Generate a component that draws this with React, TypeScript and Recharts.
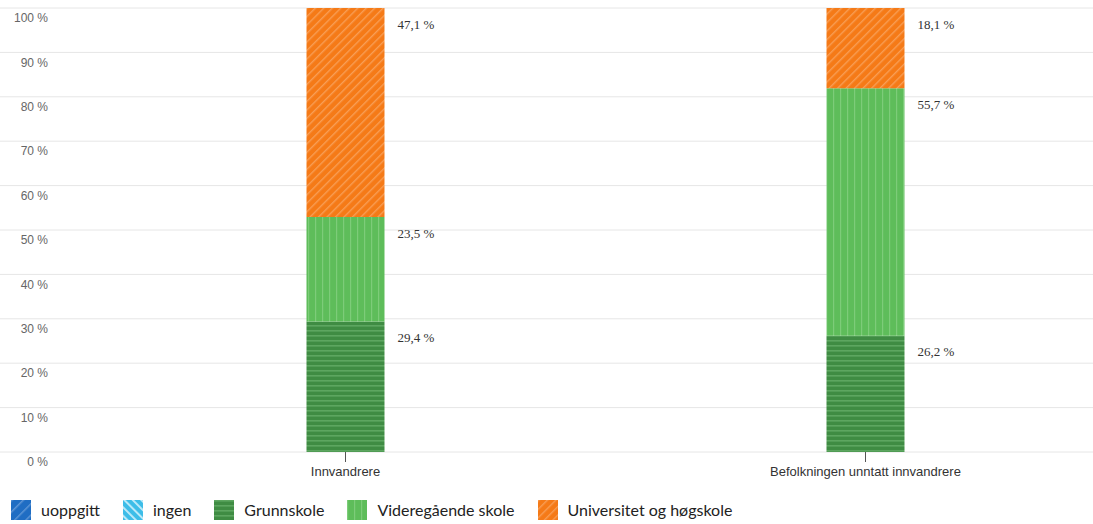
import React from 'react';
import { BarChart, Bar, XAxis, YAxis, CartesianGrid, Legend, LabelList } from 'recharts';

const categories = ['Innvandrere', 'Befolkningen unntatt innvandrere'];
const uoppgitt = [0, 0];
const ingen = [0, 0];
const grunnskole = [29.4, 26.2];
const videregaende = [23.5, 55.7];
const universitet = [47.1, 18.1];
const yTicks = [0, 10, 20, 30, 40, 50, 60, 70, 80, 90, 100];

const seriesNames = ['uoppgitt', 'ingen', 'Grunnskole', 'Videregående skole', 'Universitet og høgskole'];
const seriesKeys = ['uoppgitt', 'ingen', 'grunnskole', 'videregaende', 'universitet'];
const seriesFills = ['url(#pBlue)', 'url(#pCyan)', 'url(#pDark)', 'url(#pLight)', 'url(#pOrange)'];

const data = categories.map((name, i) => ({
  name,
  uoppgitt: uoppgitt[i],
  ingen: ingen[i],
  grunnskole: grunnskole[i],
  videregaende: videregaende[i],
  universitet: universitet[i],
}));

const fmt = (v: number) => v.toFixed(1).replace('.', ',') + ' %';

const ValueLabel = (props: any) => {
  const { x, y, width, value } = props;
  if (!value) return null;
  return (
    <text x={x + width + 13} y={y + 16} dy="0.35em" fontFamily="'Liberation Serif', serif" fontSize={13} fill="#333">
      {fmt(value)}
    </text>
  );
};

const YTick = (props: any) => {
  const { y, payload } = props;
  return (
    <text x={48} y={y + 10} dy="0.35em" textAnchor="end" fontFamily="'Liberation Sans', Arial, sans-serif" fontSize={12} fill="#666">
      {payload.value + ' %'}
    </text>
  );
};

const XTick = (props: any) => {
  const { x, y, payload } = props;
  return (
    <text x={x} y={y} dy="0.71em" textAnchor="middle" fontFamily="'Liberation Sans', Arial, sans-serif" fontSize={13} fill="#333">
      {payload.value}
    </text>
  );
};

const LegendContent = () => (
  <div style={{ display: 'flex', alignItems: 'center', height: 29, paddingLeft: 11, fontFamily: 'Lato, sans-serif', fontSize: 16, color: '#222' }}>
    {seriesNames.map((n, i) => (
      <div key={n} style={{ display: 'flex', alignItems: 'center', marginRight: 23 }}>
        <svg width={20} height={20} style={{ marginRight: 10 }}>
          <rect x={0} y={0} width={20} height={20} fill={seriesFills[i]} />
        </svg>
        <span>{n}</span>
      </div>
    ))}
  </div>
);

export default function App() {
  return (
    <div style={{ position: 'absolute', left: 0, top: 0, width: 1093, height: 524, background: '#fff' }}>
      <BarChart width={1093} height={524} data={data} margin={{ top: 8, right: 0, bottom: 0, left: 0 }} barSize={78}>
        <defs>
          <pattern id="pOrange" patternUnits="userSpaceOnUse" width={6} height={6} patternTransform="rotate(45)">
            <rect width={6} height={6} fill="#F57A17" />
            <rect x={0} y={0} width={1.4} height={6} fill="#F89E55" />
          </pattern>
          <pattern id="pLight" patternUnits="userSpaceOnUse" width={7} height={7}>
            <rect width={7} height={7} fill="#5EBD5A" />
            <rect x={0} y={0} width={1.2} height={7} fill="#7DCC79" />
          </pattern>
          <pattern id="pDark" patternUnits="userSpaceOnUse" width={5} height={5}>
            <rect width={5} height={5} fill="#3F8C43" />
            <rect x={0} y={0} width={5} height={1.6} fill="#5DA660" />
          </pattern>
          <pattern id="pBlue" patternUnits="userSpaceOnUse" width={8} height={8} patternTransform="rotate(45)">
            <rect width={8} height={8} fill="#1F6DC3" />
            <rect x={0} y={0} width={1.5} height={8} fill="#5D95D6" />
          </pattern>
          <pattern id="pCyan" patternUnits="userSpaceOnUse" width={6} height={6} patternTransform="rotate(-45)">
            <rect width={6} height={6} fill="#3DBDE8" />
            <rect x={0} y={0} width={1.8} height={6} fill="#C9EEFA" />
          </pattern>
        </defs>
        <CartesianGrid vertical={false} stroke="#e6e6e6" />
        <XAxis
          dataKey="name"
          padding={{ left: 85.5, right: -32.5 }}
          height={43}
          axisLine={false}
          tickLine={{ stroke: '#555' }}
          tickSize={10}
          tickMargin={5}
          tick={<XTick />}
          interval={0}
        />
        <YAxis
          domain={[0, 100]}
          ticks={yTicks}
          width={60}
          mirror={true}
          axisLine={false}
          tickLine={false}
          tick={<YTick />}
          interval={0}
        />
        <Legend verticalAlign="bottom" align="left" content={<LegendContent />} />
        {seriesKeys.map((k, i) => (
          <Bar key={k} dataKey={k} name={seriesNames[i]} stackId="a" fill={seriesFills[i]} isAnimationActive={false}>
            {i >= 2 ? <LabelList dataKey={k} content={<ValueLabel />} /> : null}
          </Bar>
        ))}
      </BarChart>
    </div>
  );
}
